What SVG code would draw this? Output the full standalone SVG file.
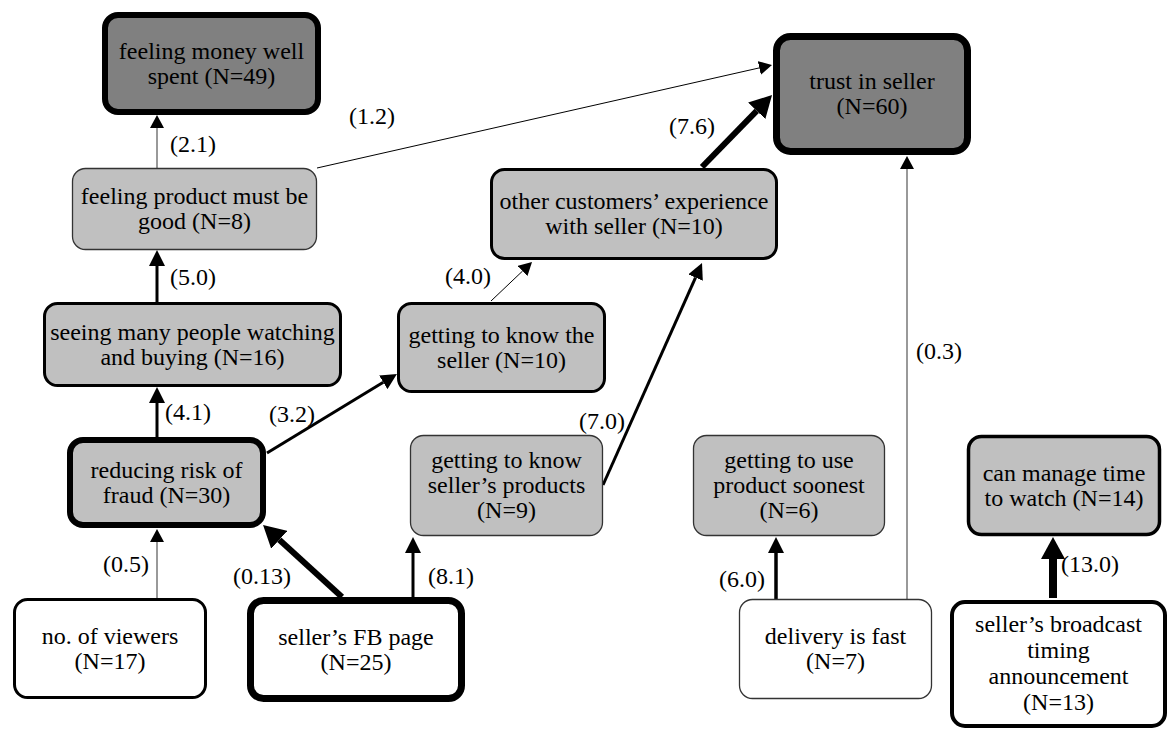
<svg xmlns="http://www.w3.org/2000/svg" width="1168" height="729" viewBox="0 0 1168 729" font-family="Liberation Serif, Times New Roman, DejaVu Serif, serif">
  <style>
    text { font-size: 24px; fill: #000; text-anchor: middle; }
    .dark { fill: #808080; }
    .light { fill: #c0c0c0; }
    .white { fill: #ffffff; }
    .bx1 { stroke: #333; stroke-width: 1.3; }
    .bx3 { stroke: #000; stroke-width: 3; }
    .bx4 { stroke: #000; stroke-width: 4; }
    .bx6 { stroke: #000; stroke-width: 6; }
    .bx7 { stroke: #000; stroke-width: 7; }
    .e1 { stroke: #000; stroke-width: 1; fill: none; }
    .e1g { stroke: #555; stroke-width: 1.2; fill: none; }
    .e3 { stroke: #000; stroke-width: 3; fill: none; }
    .e6 { stroke: #000; stroke-width: 6; fill: none; }
    .e8 { stroke: #000; stroke-width: 8; fill: none; }
  </style>
  <defs>
    <marker id="head-s" markerUnits="userSpaceOnUse" markerWidth="13" markerHeight="14" viewBox="0 0 13 14" refX="0" refY="7" orient="auto">
      <path d="M0,0 L13,7 L0,14 z" fill="#000"/>
    </marker>
    <marker id="head-m" markerUnits="userSpaceOnUse" markerWidth="16" markerHeight="16" viewBox="0 0 16 16" refX="0" refY="8" orient="auto">
      <path d="M0,0 L16,8 L0,16 z" fill="#000"/>
    </marker>
    <marker id="head-l" markerUnits="userSpaceOnUse" markerWidth="22" markerHeight="24" viewBox="0 0 22 24" refX="0" refY="12" orient="auto">
      <path d="M0,0 L22,12 L0,24 z" fill="#000"/>
    </marker>
  </defs>

  <rect width="1168" height="729" fill="#ffffff"/>

  <!-- connectors -->
  <g id="edges">
    <line class="e1g" x1="157" y1="168" x2="157" y2="128" marker-end="url(#head-s)"/>
    <line class="e1" x1="317" y1="168" x2="759.3" y2="67.9" marker-end="url(#head-s)"/>
    <line class="e6" x1="702" y1="167" x2="756.7" y2="110.8" marker-end="url(#head-l)"/>
    <line class="e1" x1="491" y1="301" x2="522.6" y2="271" marker-end="url(#head-s)"/>
    <line class="e3" x1="603" y1="485" x2="695.5" y2="277.6" marker-end="url(#head-m)"/>
    <line class="e3" x1="157" y1="302" x2="157" y2="266" marker-end="url(#head-m)"/>
    <line class="e3" x1="157" y1="437" x2="157" y2="403" marker-end="url(#head-m)"/>
    <line class="e3" x1="267" y1="453" x2="383.3" y2="382.3" marker-end="url(#head-m)"/>
    <line class="e1g" x1="157" y1="598" x2="157" y2="542" marker-end="url(#head-s)"/>
    <line class="e6" x1="342" y1="597" x2="279.3" y2="539.8" marker-end="url(#head-l)"/>
    <line class="e3" x1="413" y1="597" x2="413" y2="553" marker-end="url(#head-m)"/>
    <line class="e3" x1="776" y1="599" x2="776" y2="553" marker-end="url(#head-m)" style="stroke-width:3.5"/>
    <line class="e1g" x1="907" y1="599" x2="907" y2="169" marker-end="url(#head-s)"/>
    <line class="e8" x1="1053" y1="598" x2="1053" y2="559" marker-end="url(#head-l)"/>

    <text x="193" y="152">(2.1)</text>
    <text x="372" y="124">(1.2)</text>
    <text x="692" y="134">(7.6)</text>
    <text x="193" y="285">(5.0)</text>
    <text x="468" y="284">(4.0)</text>
    <text x="188" y="420">(4.1)</text>
    <text x="292" y="422">(3.2)</text>
    <text x="602" y="429">(7.0)</text>
    <text x="939" y="359">(0.3)</text>
    <text x="126" y="572">(0.5)</text>
    <text x="262" y="584">(0.13)</text>
    <text x="451" y="584">(8.1)</text>
    <text x="742" y="587">(6.0)</text>
    <text x="1090" y="572">(13.0)</text>
  </g>

  <!-- nodes -->
  <g id="money-well-spent">
    <rect class="dark bx6" x="105" y="15" width="213" height="97" rx="13"/>
    <text x="211.5" y="58.5">feeling money well</text>
    <text x="211.5" y="83.5">spent (N=49)</text>
  </g>
  <g id="product-must-be-good">
    <rect class="light bx1" x="72.5" y="168.5" width="244" height="81" rx="13"/>
    <text x="194.5" y="204">feeling product must be</text>
    <text x="194.5" y="229">good (N=8)</text>
  </g>
  <g id="trust-in-seller">
    <rect class="dark bx7" x="776.5" y="36.5" width="191" height="115" rx="14"/>
    <text x="872" y="89">trust in seller</text>
    <text x="872" y="114">(N=60)</text>
  </g>
  <g id="other-customers">
    <rect class="light bx3" x="491.5" y="169.5" width="285" height="89" rx="13"/>
    <text x="634" y="209">other customers’ experience</text>
    <text x="634" y="234">with seller (N=10)</text>
  </g>
  <g id="seeing-many-people">
    <rect class="light bx3" x="44.5" y="303.5" width="296" height="82" rx="13"/>
    <text x="192.5" y="339.5">seeing many people watching</text>
    <text x="192.5" y="364.5">and buying (N=16)</text>
  </g>
  <g id="know-the-seller">
    <rect class="light bx3" x="398.5" y="303.5" width="206" height="88" rx="13"/>
    <text x="501.5" y="342.5">getting to know the</text>
    <text x="501.5" y="367.5">seller (N=10)</text>
  </g>
  <g id="reducing-fraud">
    <rect class="light bx6" x="70" y="440" width="193" height="85" rx="13"/>
    <text x="166.5" y="477.5">reducing risk of</text>
    <text x="166.5" y="502.5">fraud (N=30)</text>
  </g>
  <g id="know-products">
    <rect class="light bx1" x="410.5" y="435.5" width="192" height="100" rx="13"/>
    <text x="506.5" y="468">getting to know</text>
    <text x="506.5" y="493">seller’s products</text>
    <text x="506.5" y="518">(N=9)</text>
  </g>
  <g id="use-soonest">
    <rect class="light bx1" x="693.5" y="435.5" width="191" height="100" rx="13"/>
    <text x="789" y="468">getting to use</text>
    <text x="789" y="493">product soonest</text>
    <text x="789" y="518">(N=6)</text>
  </g>
  <g id="manage-time">
    <rect class="light bx3" x="968.5" y="436.5" width="191" height="98" rx="13" style="stroke-width:3.5"/>
    <text x="1064" y="480.5">can manage time</text>
    <text x="1064" y="505.5">to watch (N=14)</text>
  </g>
  <g id="no-of-viewers">
    <rect class="white bx3" x="14.5" y="599.5" width="191" height="98" rx="13"/>
    <text x="110" y="643.5">no. of viewers</text>
    <text x="110" y="668.5">(N=17)</text>
  </g>
  <g id="fb-page">
    <rect class="white bx7" x="250.5" y="600.5" width="211" height="98" rx="13"/>
    <text x="356" y="644.5">seller’s FB page</text>
    <text x="356" y="669.5">(N=25)</text>
  </g>
  <g id="delivery-fast">
    <rect class="white bx1" x="739.5" y="599.5" width="192" height="99" rx="13"/>
    <text x="835.5" y="644">delivery is fast</text>
    <text x="835.5" y="669">(N=7)</text>
  </g>
  <g id="broadcast-timing">
    <rect class="white bx4" x="952" y="602" width="213" height="124" rx="13"/>
    <text x="1058.5" y="632">seller’s broadcast</text>
    <text x="1058.5" y="658">timing</text>
    <text x="1058.5" y="684">announcement</text>
    <text x="1058.5" y="710">(N=13)</text>
  </g>
</svg>
